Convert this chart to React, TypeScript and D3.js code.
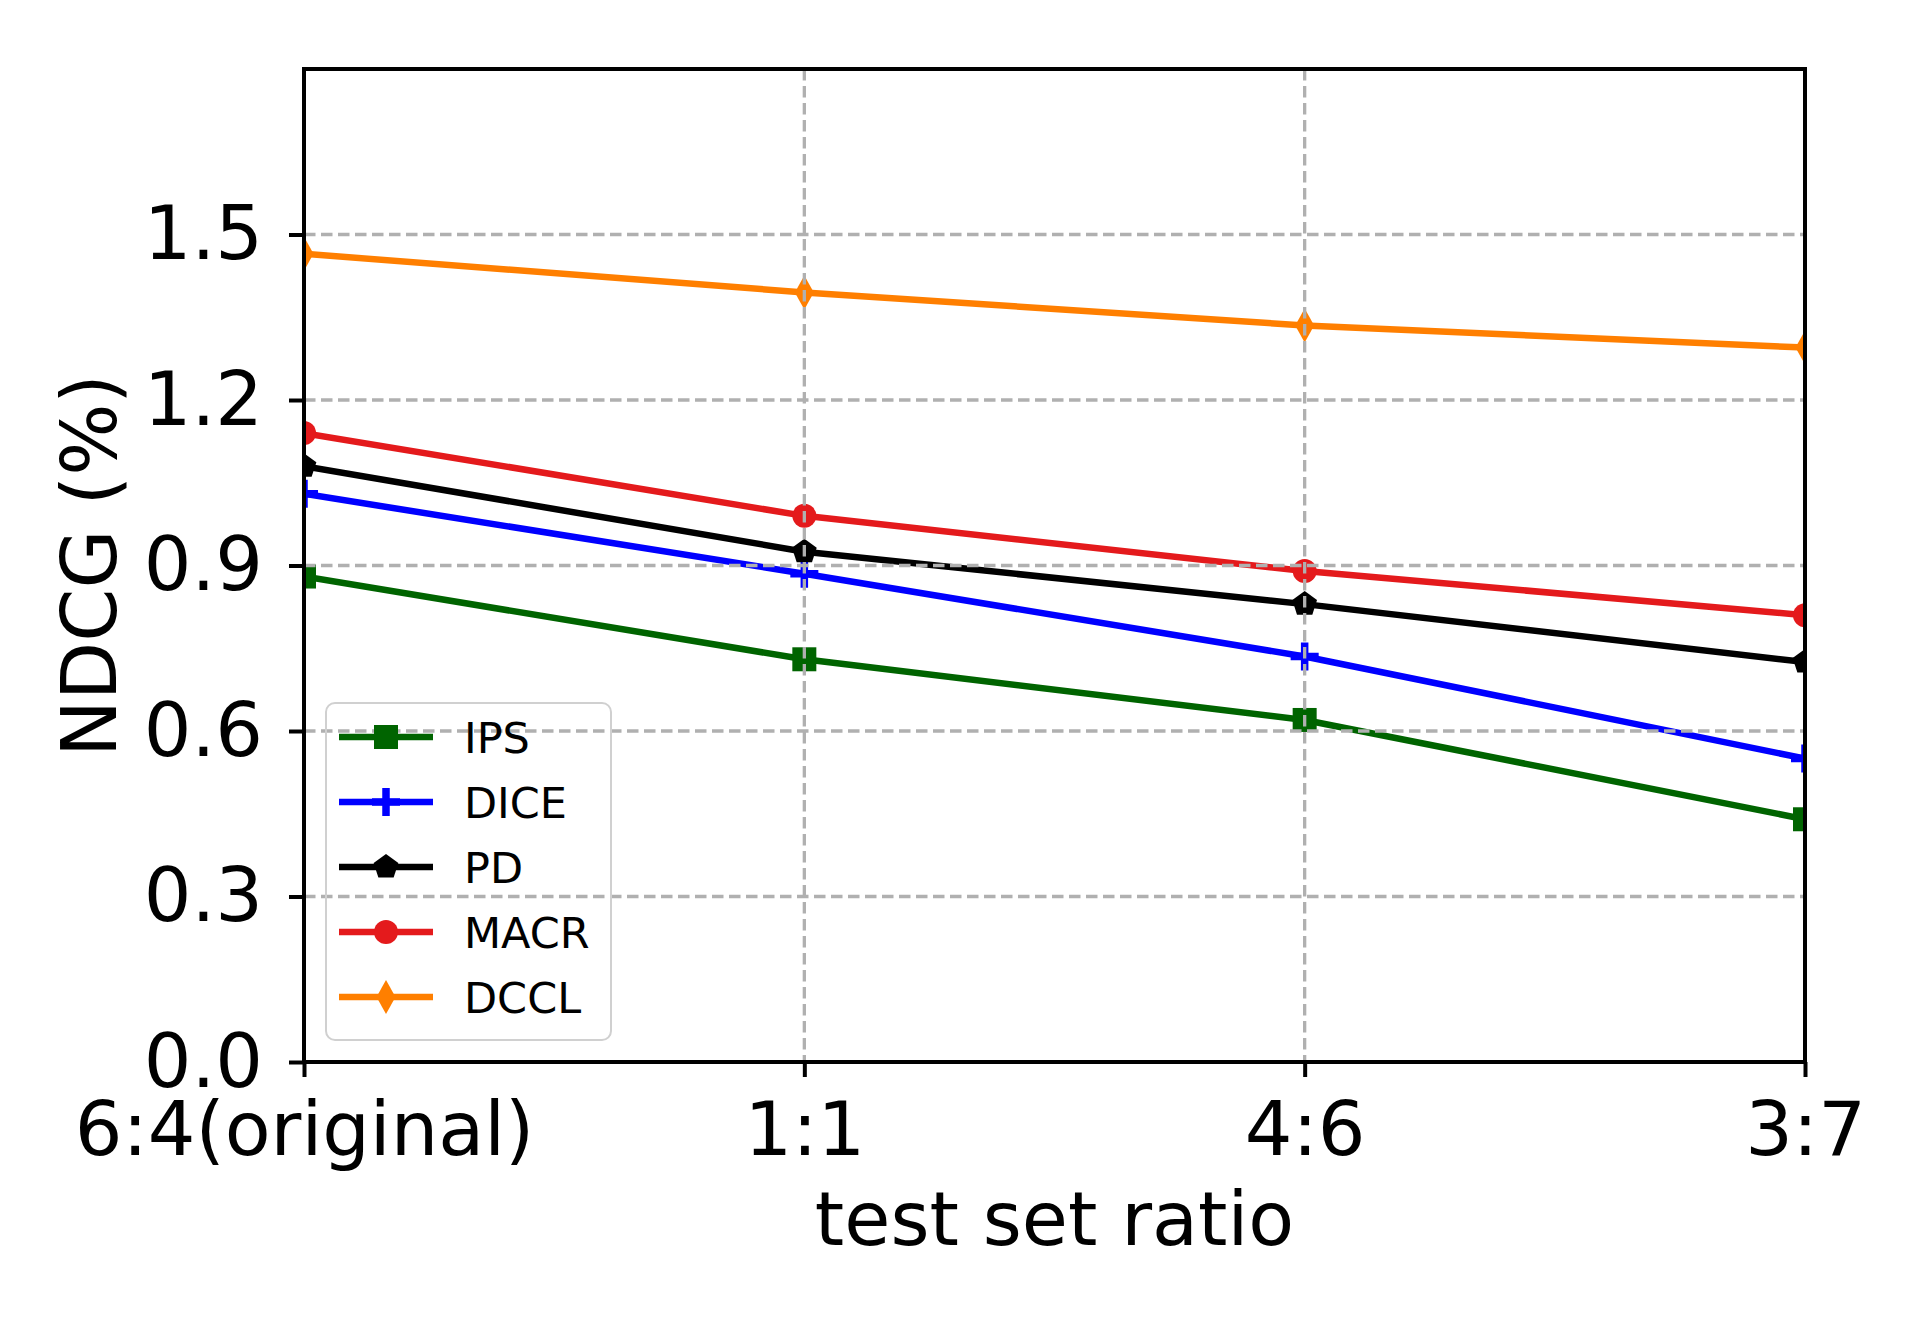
import { useEffect, useRef } from "react";
import * as d3 from "d3";

const categories = ["6:4(original)", "1:1", "4:6", "3:7"];
const yTicks = [0, 0.3, 0.6, 0.9, 1.2, 1.5];

const ipsValues = [0.88, 0.73, 0.62, 0.44];
const diceValues = [1.03, 0.885, 0.735, 0.55];
const pdValues = [1.08, 0.925, 0.83, 0.725];
const macrValues = [1.14, 0.99, 0.89, 0.81];
const dcclValues = [1.465, 1.395, 1.335, 1.295];

const seriesNames = ["IPS", "DICE", "PD", "MACR", "DCCL"];
const seriesColors = ["#006400", "#0000ff", "#000000", "#e41a1c", "#ff7f00"];
const seriesMarkers = ["square", "plus", "pentagon", "circle", "thinDiamond"];

const FONT = "DejaVu Sans";

function markerPath(kind: string) {
  if (kind === "square") return "M-12,-12H12V12H-12Z";
  if (kind === "circle") {
    const r = 12;
    return `M${r},0A${r},${r} 0 1,1 ${-r},0A${r},${r} 0 1,1 ${r},0Z`;
  }
  if (kind === "pentagon") {
    const r = 13;
    const pts = d3.range(5).map((i) => {
      const a = -Math.PI / 2 + (i * 2 * Math.PI) / 5;
      return [r * Math.cos(a), r * Math.sin(a)];
    });
    return "M" + pts.map((p) => p.join(",")).join("L") + "Z";
  }
  if (kind === "thinDiamond") return "M0,-17L9.5,0L0,17L-9.5,0Z";
  return "M-14,0H14M0,-14V14";
}

function drawMarker(g: any, kind: string, color: string, x: number, y: number) {
  const p = g
    .append("path")
    .attr("d", markerPath(kind))
    .attr("transform", `translate(${x},${y})`);
  if (kind === "plus") {
    p.attr("fill", "none").attr("stroke", color).attr("stroke-width", 7.5);
  } else {
    p.attr("fill", color).attr("stroke", "none");
  }
}

const App = () => {
  const svgRef = useRef<SVGSVGElement>(null);

  useEffect(() => {
    if (!svgRef.current) return;
    const svg = d3.select(svgRef.current);
    svg.selectAll("*").remove();

    const width = 1920;
    const height = 1320;
    const margin = { top: 69, right: 115, bottom: 258, left: 304 };
    const x0 = margin.left;
    const x1 = width - margin.right;
    const y0 = margin.top;
    const y1 = height - margin.bottom;

    const data = [ipsValues, diceValues, pdValues, macrValues, dcclValues];

    const xScale = d3.scalePoint().domain(categories).range([x0, x1]);
    const yScale = d3.scaleLinear().domain([0, 1.8]).range([y1, y0]);

    svg
      .append("defs")
      .append("clipPath")
      .attr("id", "plot-clip")
      .append("rect")
      .attr("x", x0)
      .attr("y", y0)
      .attr("width", x1 - x0)
      .attr("height", y1 - y0);

    // series
    const plot = svg.append("g").attr("clip-path", "url(#plot-clip)");
    const line = d3
      .line<number>()
      .x((_, i) => xScale(categories[i]) as number)
      .y((d) => yScale(d));

    data.forEach((vals, s) => {
      plot
        .append("path")
        .attr("d", line(vals))
        .attr("fill", "none")
        .attr("stroke", seriesColors[s])
        .attr("stroke-width", 6.5)
        .attr("stroke-linejoin", "round");
      vals.forEach((v, i) => {
        drawMarker(plot, seriesMarkers[s], seriesColors[s], xScale(categories[i]) as number, yScale(v));
      });
    });

    // grid on top of the lines
    const grid = svg.append("g");
    yTicks.forEach((t) => {
      grid
        .append("line")
        .attr("x1", x0)
        .attr("x2", x1)
        .attr("y1", yScale(t))
        .attr("y2", yScale(t));
    });
    categories.forEach((c) => {
      grid
        .append("line")
        .attr("x1", xScale(c) as number)
        .attr("x2", xScale(c) as number)
        .attr("y1", y0)
        .attr("y2", y1);
    });
    grid
      .selectAll("line")
      .attr("stroke", "#b0b0b0")
      .attr("stroke-width", 3.3)
      .attr("stroke-dasharray", "11.5 5.5");

    // axes
    const yAxis = d3
      .axisLeft(yScale)
      .tickValues(yTicks)
      .tickSize(15)
      .tickPadding(26)
      .tickFormat(d3.format(".1f"));
    const xAxis = d3.axisBottom(xScale).tickSize(15).tickPadding(25);

    const gy = svg.append("g").attr("transform", `translate(${x0},0)`).call(yAxis as any);
    const gx = svg.append("g").attr("transform", `translate(0,${y1})`).call(xAxis as any);
    [gx, gy].forEach((g) => {
      g.select(".domain").remove();
      g.selectAll(".tick line").attr("stroke", "#000").attr("stroke-width", 4);
      g.selectAll(".tick text")
        .attr("fill", "#000")
        .style("font-family", FONT)
        .style("font-size", "75px");
    });

    // spines
    svg
      .append("rect")
      .attr("x", x0)
      .attr("y", y0)
      .attr("width", x1 - x0)
      .attr("height", y1 - y0)
      .attr("fill", "none")
      .attr("stroke", "#000")
      .attr("stroke-width", 4);

    // labels
    svg
      .append("text")
      .attr("x", (x0 + x1) / 2)
      .attr("y", 1245)
      .attr("text-anchor", "middle")
      .style("font-family", FONT)
      .style("font-size", "75px")
      .text("test set ratio");

    svg
      .append("text")
      .attr("transform", `translate(116,${(y0 + y1) / 2}) rotate(-90)`)
      .attr("text-anchor", "middle")
      .style("font-family", FONT)
      .style("font-size", "76px")
      .text("NDCG (%)");

    // legend
    const legend = svg.append("g");
    legend
      .append("rect")
      .attr("x", 326)
      .attr("y", 703)
      .attr("width", 285)
      .attr("height", 337)
      .attr("rx", 9)
      .attr("fill", "none")
      .attr("stroke", "#d0d0d0")
      .attr("stroke-width", 2);

    seriesNames.forEach((name, s) => {
      const cy = 737 + s * 65;
      legend
        .append("line")
        .attr("x1", 339)
        .attr("x2", 433)
        .attr("y1", cy)
        .attr("y2", cy)
        .attr("stroke", seriesColors[s])
        .attr("stroke-width", 6.5);
      drawMarker(legend, seriesMarkers[s], seriesColors[s], 386, cy);
      legend
        .append("text")
        .attr("x", 464)
        .attr("y", cy + 16)
        .style("font-family", FONT)
        .style("font-size", "43px")
        .text(name);
    });
  }, []);

  return (
    <div style={{ position: "absolute", left: 0, top: 0 }}>
      <svg ref={svgRef} width={1920} height={1320} style={{ display: "block", background: "#fff" }}></svg>
    </div>
  );
};

export default App;
